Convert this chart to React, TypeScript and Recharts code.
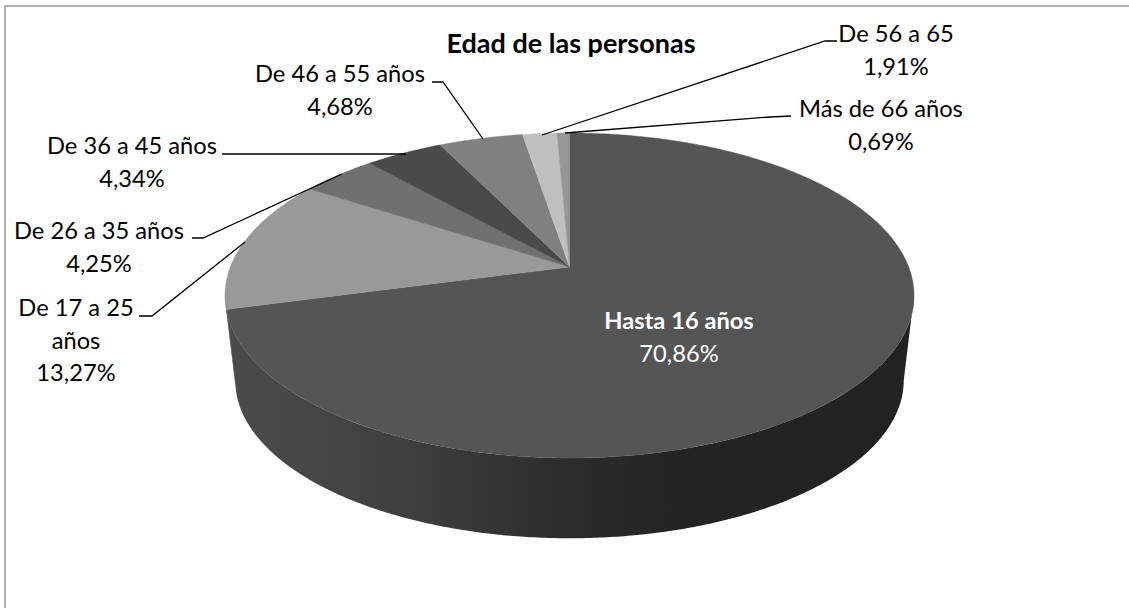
import { PieChart, Pie, Cell } from "recharts";

const CATEGORIES = [
  "Hasta 16 años",
  "De 17 a 25 años",
  "De 26 a 35 años",
  "De 36 a 45 años",
  "De 46 a 55 años",
  "De 56 a 65",
  "Más de 66 años",
];
const VALUES = [70.86, 13.27, 4.25, 4.34, 4.68, 1.91, 0.69];
const FILLS = ["#555555", "#999999", "#707070", "#4a4a4a", "#808080", "#bfbfbf", "#979797"];

const TABLE = CATEGORIES.map((name, i) => ({ name, value: VALUES[i] }));

// where each label sits, and the leader line running from it to its slice
const LABEL_LAYOUT = [
  { x: 679, y: 329, color: "#ffffff", bold: true, wrap: 0, leader: "" },
  { x: 76, y: 316, color: "#000000", bold: false, wrap: 10, leader: "139,316 152,316 245,242" },
  { x: 99, y: 239, color: "#000000", bold: false, wrap: 0, leader: "192,238 203,238 342,174" },
  { x: 132, y: 154, color: "#000000", bold: false, wrap: 0, leader: "222,154 406,154" },
  { x: 340, y: 82, color: "#000000", bold: false, wrap: 0, leader: "432,82 443,82 483,139" },
  { x: 896, y: 42, color: "#000000", bold: false, wrap: 0, leader: "837,41 825,41 542,135" },
  { x: 881, y: 117, color: "#000000", bold: false, wrap: 0, leader: "791,116 770,117 565,133" },
];

const FONT = "Lato, sans-serif";
const FONT_SIZE = 23.7;
const LINE_HEIGHT = 32.5;

// fake 3D: the flat circle is projected with a bit of perspective
const PERSPECTIVE = 0.1754;
const TILT = 0.4643;
const DEPTH = 86;
const BOTTOM_SCALE = 0.97;
const RIM_START = 100.1;
const RIM_END = 259.9;

function project(cx: number, cy: number, r: number, theta: number, scale = 1, dy = 0) {
  const rad = (theta * Math.PI) / 180;
  const u = Math.sin(rad);
  const v = -Math.cos(rad);
  const d = 1 - PERSPECTIVE * v;
  return [cx + (r * scale * u) / d, cy + dy + (r * TILT * scale * v) / d];
}

function arcPoints(cx: number, cy: number, r: number, from: number, to: number, scale = 1, dy = 0) {
  const pts = [];
  const steps = Math.max(2, Math.ceil(Math.abs(to - from) * 2));
  for (let i = 0; i <= steps; i++) {
    pts.push(project(cx, cy, r, from + ((to - from) * i) / steps, scale, dy));
  }
  return pts;
}

const toPath = (pts: number[][]) =>
  pts.map((p, i) => `${i ? "L" : "M"}${p[0].toFixed(2)},${p[1].toFixed(2)}`).join(" ") + " Z";

function Slice(props: any) {
  const { cx, cy, outerRadius, startAngle, endAngle, fill } = props;
  const from = 90 - startAngle;
  const to = 90 - endAngle;
  const rimFrom = Math.max(from, RIM_START);
  const rimTo = Math.min(to, RIM_END);
  const hasRim = rimTo > rimFrom;
  const isMain = fill === FILLS[0];
  return (
    <g>
      {hasRim && (
        <path
          d={toPath([
            ...arcPoints(cx, cy, outerRadius, rimFrom, rimTo),
            ...arcPoints(cx, cy, outerRadius, rimTo, rimFrom, BOTTOM_SCALE, DEPTH),
          ])}
          fill={isMain ? "url(#rimShade)" : "#6a6a6a"}
        />
      )}
      <path
        d={toPath([[cx, cy], ...arcPoints(cx, cy, outerRadius, from, to)])}
        fill={fill}
        stroke={fill}
        strokeWidth={0.4}
      />
    </g>
  );
}

function SliceLabel(props: any) {
  const { index, name, value } = props;
  const layout = LABEL_LAYOUT[index];
  const nameLines = layout.wrap
    ? [name.slice(0, layout.wrap), name.slice(layout.wrap + 1)]
    : [name];
  const percent = value.toFixed(2).replace(".", ",") + "%";
  return (
    <g>
      {layout.leader && (
        <polyline points={layout.leader} fill="none" stroke="#000000" strokeWidth={1.3} />
      )}
      {nameLines.map((line: string, i: number) => (
        <text
          key={i}
          x={layout.x}
          y={layout.y + i * LINE_HEIGHT}
          textAnchor="middle"
          fontFamily={FONT}
          fontSize={FONT_SIZE}
          fontWeight={layout.bold ? 700 : 400}
          fill={layout.color}
        >
          {line}
        </text>
      ))}
      <text
        x={layout.x}
        y={layout.y + nameLines.length * LINE_HEIGHT}
        textAnchor="middle"
        fontFamily={FONT}
        fontSize={FONT_SIZE}
        fill={layout.color}
      >
        {percent}
      </text>
    </g>
  );
}

export default function App() {
  return (
    <div style={{ position: "absolute", left: 0, top: 0, width: 1129, height: 608, overflow: "hidden", background: "#fff" }}>
      <div
        style={{
          position: "absolute",
          left: 4,
          top: 5,
          width: 1125,
          height: 603,
          borderLeft: "2px solid #b0b0b0",
          borderTop: "2px solid #b0b0b0",
        }}
      />
      <div style={{ position: "absolute", left: 0, top: 0 }}>
        <PieChart width={1129} height={608} margin={{ top: 0, right: 0, bottom: 0, left: 0 }}>
          <defs>
            <linearGradient id="rimShade" gradientUnits="userSpaceOnUse" x1={225} y1={0} x2={913} y2={0}>
              <stop offset="0" stopColor="#4c4c4c" />
              <stop offset="0.25" stopColor="#404040" />
              <stop offset="0.5" stopColor="#2c2c2c" />
              <stop offset="0.65" stopColor="#242424" />
              <stop offset="1" stopColor="#222222" />
            </linearGradient>
          </defs>
          <text x={571} y={53} textAnchor="middle" fontFamily={FONT} fontSize={27} fontWeight={700} fill="#000000">
            Edad de las personas
          </text>
          <Pie
            data={TABLE}
            dataKey="value"
            nameKey="name"
            cx={569.5}
            cy={267}
            innerRadius={0}
            outerRadius={339.2}
            startAngle={90}
            endAngle={-270}
            stroke="none"
            shape={Slice}
            label={SliceLabel}
            labelLine={false}
            isAnimationActive={false}
          >
            {TABLE.map((_, i) => (
              <Cell key={i} fill={FILLS[i]} />
            ))}
          </Pie>
        </PieChart>
      </div>
    </div>
  );
}
